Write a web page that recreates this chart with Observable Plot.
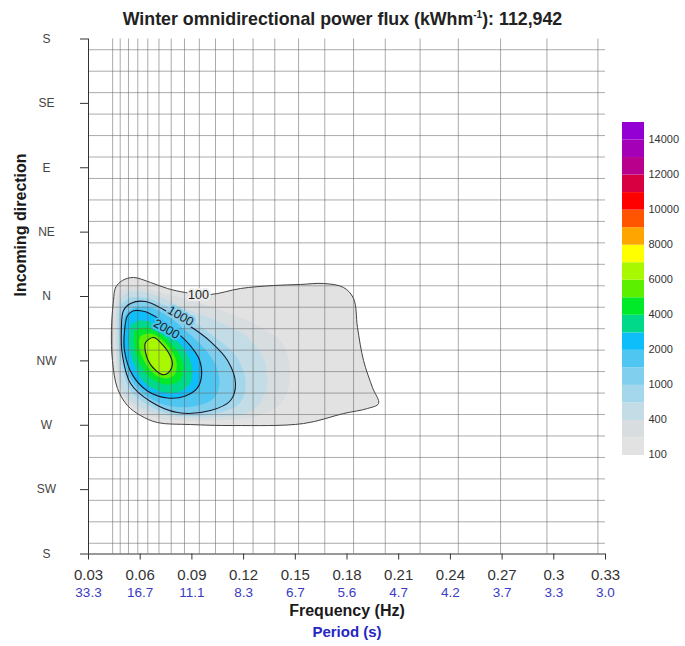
<!DOCTYPE html>
<html>
<head>
<meta charset="utf-8">
<script src="https://cdn.jsdelivr.net/npm/d3@7"></script>
<script src="https://cdn.jsdelivr.net/npm/@observablehq/plot@0.6"></script>
<style>
  html, body { margin: 0; padding: 0; background: #fff; }
  #wrap { position: relative; width: 685px; height: 646px; overflow: hidden; font-family: "Liberation Sans", Arial, sans-serif; }
  #title { position: absolute; left: 0; top: 9px; width: 685px; text-align: center; font-weight: bold; font-size: 17.8px; line-height: 20px; color: #222; }
  #title sup { font-size: 10px; vertical-align: 7px; line-height: 0; }
  #main { position: absolute; left: 0; top: 0; }
  #cbar { position: absolute; left: 610px; top: 115px; }
</style>
</head>
<body>
<div id="wrap">
  <div id="main"></div>
  <div id="cbar"></div>
  <div id="title">Winter omnidirectional power flux (kWhm<sup>-1</sup>): 112,942</div>
</div>
<script>
// ---------- axis ticks / labels ----------
const dirTicks = [180, 135, 90, 45, 0, -45, -90, -135, -180];
const dirLabels = ["S", "SE", "E", "NE", "N", "NW", "W", "SW", "S"];
const freqTicks = [0.03, 0.06, 0.09, 0.12, 0.15, 0.18, 0.21, 0.24, 0.27, 0.30, 0.33];
const freqLabels = ["0.03", "0.06", "0.09", "0.12", "0.15", "0.18", "0.21", "0.24", "0.27", "0.3", "0.33"];
const periodLabels = ["33.3", "16.7", "11.1", "8.3", "6.7", "5.6", "4.7", "4.2", "3.7", "3.3", "3.0"];

// spectral bins drawn as grid (Hz, degrees)
const freqGrid = [0.044, 0.0484, 0.0532, 0.0586, 0.0644, 0.0709, 0.078, 0.0857, 0.0943, 0.1037, 0.1141,
  0.1255, 0.1381, 0.1519, 0.1671, 0.1838, 0.2022, 0.2224, 0.2446, 0.2691, 0.296, 0.3256];
const dirGrid = [172.5, 157.5, 142.5, 127.5, 112.5, 97.5, 82.5, 67.5, 52.5, 37.5, 22.5, 7.5,
  -7.5, -22.5, -37.5, -52.5, -67.5, -82.5, -97.5, -112.5, -127.5, -142.5, -157.5, -172.5];

// ---------- colour classes (lower bounds) ----------
const cbThresholds = [100, 250, 400, 700, 1000, 1500, 2000, 3000, 4000, 5000, 6000, 7000, 8000, 9000, 10000, 11000, 12000, 13000, 14000];
const cbColors = ["#e2e2e2", "#d8dde0", "#c4dce6", "#a4d7ec", "#80cfee", "#4fc6f1", "#0ebefa", "#00d88a", "#00ea2a",
  "#5cf000", "#a8f800", "#ffff00", "#ffa500", "#ff5500", "#ff0000", "#d80040", "#b8008c", "#a400b8", "#9400d3"];
const cbLabels = [100, 400, 1000, 2000, 4000, 6000, 8000, 10000, 12000, 14000];

// ---------- isolines of power flux, [frequency Hz, direction deg] ----------
const poly100 = [[0.0445,-2.8],[0.0457,6.3],[0.0497,11.2],[0.0561,13.3],[0.0660,9.8],[0.0758,5.6],[0.0863,2.8],
  [0.1008,1.4],[0.1182,5.6],[0.1374,7.7],[0.1530,8.4],[0.1664,9.1],[0.1780,6.3],[0.1838,-1.4],[0.1861,-21.7],
  [0.1896,-44.8],[0.1948,-63.7],[0.1983,-74.8],[0.1919,-78.3],[0.1780,-81.8],[0.1548,-88.8],[0.1141,-90.2],
  [0.0892,-89.5],[0.0700,-88.1],[0.0602,-83.2],[0.0526,-76.2],[0.0468,-64.3],[0.0439,-44.8],[0.0433,-23.8]];
const poly250 = [[0.0462,-2.8],[0.0486,4.2],[0.0573,7.0],[0.0718,2.8],[0.0892,-2.8],[0.1080,-9.8],[0.1270,-19.5],
  [0.1420,-32.0],[0.1470,-51.8],[0.1430,-72.7],[0.1290,-83.2],[0.1008,-86.7],[0.0718,-85.3],[0.0573,-78.3],
  [0.0486,-65.7],[0.0457,-37.8],[0.0451,-16.8]];
const poly400 = [[0.0474,-4.2],[0.0515,2.1],[0.0602,3.5],[0.0735,-1.4],[0.0892,-9.8],[0.1066,-18.2],[0.1230,-29.4],
  [0.1320,-44.8],[0.1330,-65.7],[0.1250,-79.7],[0.1008,-84.6],[0.0747,-83.2],[0.0602,-77.6],[0.0503,-67.1],
  [0.0468,-44.8],[0.0462,-20.3]];
const poly700 = [[0.0486,-7.0],[0.0532,-1.4],[0.0619,-0.7],[0.0747,-6.3],[0.0880,-15.4],[0.1020,-27.3],[0.1153,-41.3],
  [0.1211,-58.8],[0.1182,-74.1],[0.1037,-81.8],[0.0822,-83.2],[0.0660,-76.9],[0.0544,-65.7],[0.0486,-44.8],[0.0474,-23.8]];
const poly1000 = [[0.0503,-9.8],[0.0544,-4.9],[0.0631,-3.5],[0.0735,-9.1],[0.0822,-16.1],[0.0909,-22.4],[0.1008,-31.5],
  [0.1107,-44.7],[0.1153,-60.8],[0.1124,-72.7],[0.1008,-79.7],[0.0816,-81.1],[0.0660,-73.4],[0.0544,-60.8],
  [0.0497,-41.2],[0.0491,-22.4]];
const poly1500 = [[0.0515,-12.6],[0.0573,-7.7],[0.0660,-7.7],[0.0764,-14.0],[0.0863,-23.8],[0.0962,-35.0],[0.1037,-47.6],
  [0.1060,-60.9],[0.1031,-70.6],[0.0938,-76.2],[0.0787,-76.9],[0.0648,-70.6],[0.0550,-58.8],[0.0503,-41.3],[0.0497,-25.9]];
const poly2000 = [[0.0526,-13.5],[0.0561,-10.0],[0.0631,-10.7],[0.0718,-16.3],[0.0816,-25.4],[0.0892,-34.5],[0.0944,-44.3],
  [0.0956,-55.5],[0.0932,-63.9],[0.0863,-69.5],[0.0758,-70.9],[0.0642,-66.0],[0.0555,-54.8],[0.0509,-38.0],[0.0509,-24.0]];
const poly3000 = [[0.0550,-19.6],[0.0602,-16.8],[0.0671,-18.2],[0.0753,-24.5],[0.0834,-33.6],[0.0886,-43.4],[0.0903,-53.9],
  [0.0880,-62.3],[0.0816,-67.1],[0.0718,-66.4],[0.0631,-60.9],[0.0573,-49.7],[0.0538,-35.7]];
const poly4000 = [[0.0573,-23.8],[0.0631,-21.7],[0.0700,-25.2],[0.0776,-32.2],[0.0834,-42.0],[0.0851,-51.8],[0.0822,-59.5],
  [0.0747,-61.6],[0.0666,-57.4],[0.0602,-47.6],[0.0567,-35.7]];
const poly5000 = [[0.0602,-28.0],[0.0660,-25.9],[0.0718,-29.4],[0.0776,-37.1],[0.0811,-46.2],[0.0799,-54.6],[0.0747,-57.4],
  [0.0677,-53.9],[0.0625,-45.5],[0.0596,-36.4]];
const poly6000 = [[0.0631,-32.2],[0.0677,-28.7],[0.0718,-32.2],[0.0764,-39.2],[0.0787,-46.9],[0.0764,-53.2],[0.0729,-54.6],
  [0.0660,-47.6],[0.0631,-39.2]];

const polyLevels = [100, 250, 400, 700, 1000, 1500, 2000, 3000, 4000, 5000, 6000];
const polygons = [poly100, poly250, poly400, poly700, poly1000, poly1500, poly2000, poly3000, poly4000, poly5000, poly6000];
const outlinedLevels = [100, 1000, 2000, 6000];

// contour labels
const labelText = ["100", "1000", "2000"];
const labelFreq = [0.0938, 0.0834, 0.0753];
const labelDir = [0.7, -13.6, -22.8];

// ---------- main chart ----------
const FONT = "'Liberation Sans', Arial, Helvetica, sans-serif";
const px = d => d[0], py = d => d[1];
const marks = [];

polygons.forEach((p, i) => {
  marks.push(Plot.line(p, {x: px, y: py, fill: cbColors[cbThresholds.indexOf(polyLevels[i])], stroke: "none", curve: "catmull-rom-closed"}));
});

marks.push(Plot.ruleX(freqGrid, {stroke: "#666", strokeOpacity: 0.55, strokeWidth: 1}));
marks.push(Plot.ruleY(dirGrid, {stroke: "#666", strokeOpacity: 0.55, strokeWidth: 1}));

polygons.forEach((p, i) => {
  if (outlinedLevels.includes(polyLevels[i])) {
    marks.push(Plot.line(p, {x: px, y: py, stroke: i === 0 ? "#444" : "#1a1a2a", strokeWidth: i === 0 ? 1 : 1.1, curve: "catmull-rom-closed"}));
  }
});

const halo = ["#ececec", "#8ad0ee", "#45c4f2"];
const angle = [0, 30, 30];
labelText.forEach((_, i) => {
  marks.push(Plot.text([i], {
    x: j => labelFreq[j], y: j => labelDir[j], text: j => labelText[j],
    rotate: angle[i], fontSize: 12.5, fill: "#222", stroke: halo[i], strokeWidth: 4
  }));
});

// axis lines
marks.push(Plot.ruleX([0.03], {stroke: "#333", strokeWidth: 1}));
marks.push(Plot.ruleY([-180], {stroke: "#333", strokeWidth: 1}));

// y ticks + labels
marks.push(Plot.axisY({ticks: dirTicks, tickSize: 8, stroke: "#333", tickFormat: () => "", label: null}));
marks.push(Plot.text(dirTicks, {
  y: d => d, text: d => dirLabels[dirTicks.indexOf(d)], frameAnchor: "left", dx: -42,
  textAnchor: "middle", fontSize: 12, fill: "#444"
}));
// x ticks + labels
marks.push(Plot.axisX({
  ticks: freqTicks, tickSize: 6, tickPadding: 9, stroke: "#333",
  tickFormat: d => freqLabels[freqTicks.indexOf(d)],
  fontSize: 15, fill: "#333", label: null
}));
marks.push(Plot.text(freqTicks, {
  x: d => d, text: d => periodLabels[freqTicks.indexOf(d)], frameAnchor: "bottom",
  dy: 43, fontSize: 13.5, fill: "#3a3ac4"
}));
marks.push(Plot.text(["Frequency (Hz)"], {frameAnchor: "bottom", dy: 62, fontSize: 16, fontWeight: "bold", fill: "#1a1a1a"}));
marks.push(Plot.text(["Period (s)"], {frameAnchor: "bottom", dy: 83, fontSize: 15, fontWeight: "bold", fill: "#2626c0"}));
marks.push(Plot.text(["Incoming direction"], {frameAnchor: "left", dx: -68, rotate: -90, fontSize: 16, fontWeight: "bold", fill: "#1a1a1a"}));

const main = Plot.plot({
  width: 685, height: 646,
  marginLeft: 88, marginRight: 80, marginTop: 38.5, marginBottom: 92.5,
  x: {domain: [0.03, 0.33]},
  y: {domain: [-180, 180]},
  style: {fontFamily: FONT, background: "transparent", color: "#333", overflow: "visible"},
  marks
});
document.getElementById("main").appendChild(main);

// ---------- colour bar ----------
const cbIdx = cbColors.map((_, i) => i);
const cbar = Plot.plot({
  width: 75, height: 346,
  marginLeft: 12, marginRight: 41, marginTop: 7, marginBottom: 6,
  x: {domain: [0, 1], axis: null},
  y: {domain: [0, 19], axis: null},
  style: {fontFamily: FONT, background: "transparent", overflow: "visible"},
  marks: [
    Plot.rect(cbIdx, {x1: 0, x2: 1, y1: i => i, y2: i => i + 1, fill: i => cbColors[i], inset: 0}),
    Plot.text(cbLabels, {x: 1, y: (d, i) => 2 * i, text: d => String(d), textAnchor: "start", dx: 4, dy: -1, fontSize: 11, fill: "#333"})
  ]
});
document.getElementById("cbar").appendChild(cbar);
</script>
</body>
</html>
